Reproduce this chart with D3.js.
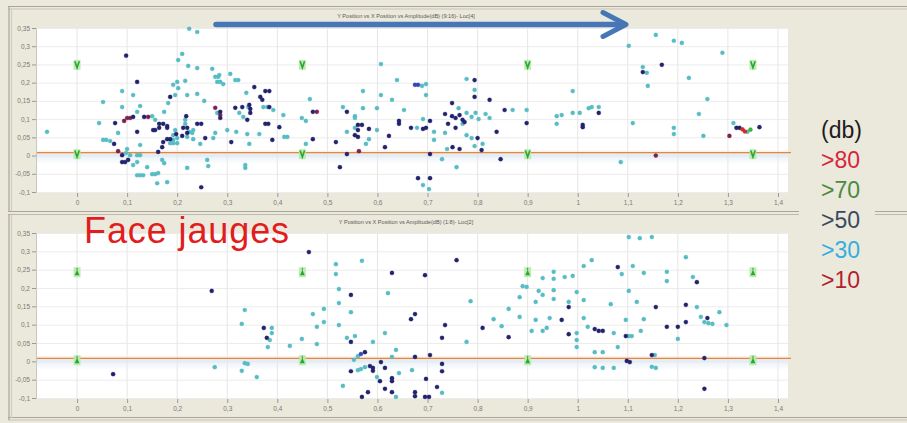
<!DOCTYPE html>
<html><head><meta charset="utf-8">
<script src="https://cdn.jsdelivr.net/npm/d3@7"></script>
<style>body{margin:0;background:#ebe8dc;overflow:hidden}svg{display:block}</style>
</head><body><svg id="c" width="907" height="423"></svg>
<script>
// ---------- DATA ----------
const xTicks = [0,0.1,0.2,0.3,0.4,0.5,0.6,0.7,0.8,0.9,1,1.1,1.2,1.3,1.4];
const yTicks = [0.35,0.3,0.25,0.2,0.15,0.1,0.05,0,-0.05,-0.1];
const thresholdY = 0.008;
const gaugeX = [0,0.45,0.9,1.35];
const gaugeYTop = [0.249,0.004];
const gaugeYBottom = [0.243,0.003];
const titleTop = "Y Position vs X Position vs Amplitude(dB) (9:16)- Loc[4]";
const titleBottom = "Y Position vs X Position vs Amplitude(dB) (1:8)- Loc[2]";
const legendLabels = ["(db)", ">80", ">70", ">50", ">30", ">10"];
const legendColors = ["#1c1c1c", "#d9243a", "#4c8a3e", "#3a4a5e", "#34aee0", "#b41e2e"];

const topTeal = [[-0.060,0.065],[0.052,0.147],[0.044,0.089],[0.052,0.043],[0.058,0.043],[0.066,0.040],[0.090,0.177],[0.090,0.133],[0.082,0.062],[0.112,0.166],[0.126,0.136],[0.120,0.120],[0.150,0.108],[0.126,0.029],[0.100,0.018],[0.098,0.007],[0.106,0.001],[0.112,-0.026],[0.120,-0.018],[0.120,0.001],[0.126,0.001],[0.140,-0.032],[0.120,-0.054],[0.126,-0.054],[0.132,-0.054],[0.150,-0.051],[0.156,-0.051],[0.162,-0.048],[0.160,-0.076],[0.180,-0.073],[0.170,-0.012],[0.174,-0.021],[0.156,0.098],[0.174,0.120],[0.182,0.144],[0.186,0.034],[0.192,0.043],[0.196,0.166],[0.192,0.194],[0.200,0.202],[0.202,0.185],[0.202,0.262],[0.210,0.279],[0.216,0.205],[0.220,0.166],[0.222,0.246],[0.240,0.240],[0.224,0.348],[0.240,0.339],[0.240,0.169],[0.216,0.098],[0.216,0.087],[0.196,0.070],[0.224,0.065],[0.230,0.062],[0.232,0.070],[0.254,0.150],[0.260,-0.012],[0.262,-0.029],[0.246,0.032],[0.232,0.045],[0.220,0.051],[0.192,0.056],[0.200,0.048],[0.192,0.034],[0.200,0.034],[0.220,-0.034],[0.270,0.238],[0.276,0.216],[0.282,0.216],[0.280,0.202],[0.286,0.202],[0.272,0.048],[0.276,0.062],[0.284,0.221],[0.292,0.196],[0.280,0.117],[0.306,0.224],[0.316,0.207],[0.322,0.207],[0.300,0.070],[0.318,0.065],[0.324,0.117],[0.332,0.106],[0.342,0.133],[0.338,0.172],[0.340,0.059],[0.344,0.032],[0.336,-0.026],[0.336,-0.034],[0.364,0.059],[0.372,0.133],[0.380,0.133],[0.392,0.125],[0.412,0.111],[0.414,0.051],[0.420,0.051],[0.465,0.155],[0.449,0.103],[0.457,0.095],[0.457,0.032],[0.531,0.133],[0.555,0.108],[0.555,0.103],[0.555,0.076],[0.539,0.065],[0.571,0.177],[0.571,0.130],[0.583,0.045],[0.577,0.032],[0.599,0.070],[0.599,0.130],[0.607,0.251],[0.607,0.166],[0.629,0.153],[0.639,0.207],[0.653,0.125],[0.689,0.191],[0.697,0.196],[0.679,0.076],[0.691,0.100],[0.697,0.166],[0.713,0.065],[0.713,0.043],[0.691,-0.081],[0.703,-0.092],[0.729,-0.010],[0.735,0.062],[0.762,0.130],[0.770,0.087],[0.778,0.210],[0.794,0.180],[0.778,0.117],[0.788,0.106],[0.796,0.117],[0.802,0.100],[0.778,0.056],[0.788,0.048],[0.794,0.026],[0.810,0.032],[0.739,0.018],[0.758,-0.032],[0.816,0.114],[0.824,0.103],[0.870,0.125],[0.898,0.125],[0.958,0.108],[0.968,0.111],[0.958,0.087],[0.990,0.177],[0.990,0.117],[1.004,0.117],[1.022,0.130],[1.028,0.133],[1.042,0.133],[1.086,-0.018],[1.102,0.301],[1.110,0.089],[1.130,0.243],[1.138,0.227],[1.140,0.191],[1.156,0.331],[1.192,0.315],[1.208,0.309],[1.192,0.076],[1.192,0.059],[1.222,0.213],[1.242,0.114],[1.251,0.054],[1.259,0.155],[1.289,0.282],[1.311,0.089],[1.339,0.065]];
const topNavy = [[0.076,0.089],[0.074,0.032],[0.098,0.274],[0.112,0.106],[0.120,0.065],[0.120,0.202],[0.134,0.106],[0.090,0.001],[0.090,-0.018],[0.096,-0.018],[0.102,-0.012],[0.162,0.010],[0.152,0.070],[0.156,0.070],[0.164,0.087],[0.164,0.076],[0.172,0.087],[0.180,0.081],[0.180,0.076],[0.186,0.161],[0.180,0.045],[0.186,0.045],[0.172,0.037],[0.170,0.023],[0.218,0.108],[0.212,0.076],[0.220,0.076],[0.198,0.059],[0.210,0.054],[0.220,0.062],[0.240,0.087],[0.248,0.087],[0.256,0.048],[0.248,-0.087],[0.286,0.120],[0.286,0.103],[0.308,0.037],[0.316,0.131],[0.330,0.133],[0.340,0.098],[0.344,0.139],[0.346,0.128],[0.346,0.117],[0.354,0.188],[0.366,0.161],[0.370,0.153],[0.376,0.177],[0.384,0.177],[0.376,0.087],[0.382,0.087],[0.384,0.133],[0.390,0.043],[0.404,0.078],[0.471,0.120],[0.471,0.045],[0.517,0.037],[0.525,-0.032],[0.539,0.004],[0.539,0.120],[0.561,0.084],[0.569,0.084],[0.561,0.070],[0.555,0.056],[0.561,0.051],[0.583,0.073],[0.615,0.023],[0.623,0.054],[0.643,0.095],[0.643,0.087],[0.667,0.076],[0.691,0.073],[0.697,0.076],[0.705,0.095],[0.705,0.004],[0.681,-0.062],[0.705,-0.062],[0.741,0.087],[0.735,0.114],[0.749,0.144],[0.749,0.108],[0.756,0.103],[0.764,0.111],[0.770,0.098],[0.774,0.092],[0.756,0.076],[0.794,0.207],[0.794,0.161],[0.800,0.048],[0.808,0.015],[0.750,0.023],[0.764,0.018],[0.824,0.153],[0.838,0.065],[0.846,-0.010],[0.854,0.125],[0.898,0.089],[1.010,0.084],[1.010,0.078],[1.042,0.117],[1.130,0.229],[1.168,0.249],[1.317,0.076],[1.323,0.076],[1.363,0.078]];
const topBlue = [[0.675,0.194],[0.681,0.194]];
const topMaroon = [[0.082,0.012],[0.094,0.095],[0.100,0.103],[0.106,0.103],[0.142,0.106],[0.276,0.131],[0.286,0.111],[0.479,0.120],[0.563,0.012],[1.156,0.000],[1.303,0.054]];
const topRed = [[1.329,0.072],[1.334,0.066]];
const topGreen = [[1.345,0.071]];

const bottomTeal = [[0.275,-0.016],[0.329,0.102],[0.335,0.140],[0.329,-0.026],[0.335,-0.005],[0.341,-0.007],[0.359,-0.043],[0.385,0.058],[0.389,0.091],[0.389,0.077],[0.381,0.039],[0.425,0.042],[0.449,0.061],[0.471,0.129],[0.479,0.094],[0.479,0.047],[0.493,0.143],[0.493,0.107],[0.517,0.265],[0.517,0.238],[0.523,0.197],[0.523,0.159],[0.523,0.099],[0.531,-0.067],[0.539,0.064],[0.547,0.134],[0.555,0.069],[0.553,0.004],[0.561,0.014],[0.561,-0.024],[0.567,-0.021],[0.575,-0.016],[0.569,0.274],[0.591,0.053],[0.599,-0.043],[0.615,0.077],[0.621,0.186],[0.629,0.012],[0.637,0.031],[0.637,-0.097],[0.643,-0.032],[0.669,-0.024],[0.729,-0.086],[0.778,0.053],[0.786,0.164],[0.832,0.115],[0.848,0.096],[0.862,0.143],[0.884,0.175],[0.884,0.121],[0.890,0.205],[0.898,0.203],[0.908,0.083],[0.916,0.162],[0.916,0.113],[0.922,0.192],[0.930,0.227],[0.930,0.181],[0.930,0.083],[0.938,0.091],[0.944,0.118],[0.952,0.244],[0.952,0.225],[0.952,0.194],[0.952,0.170],[0.974,0.230],[0.982,0.162],[0.990,0.233],[0.998,0.189],[0.998,0.077],[0.998,0.058],[0.998,0.039],[1.012,0.260],[1.012,0.167],[1.012,0.118],[1.020,0.094],[1.028,0.276],[1.034,0.025],[1.050,0.025],[1.034,-0.016],[1.050,-0.018],[1.072,-0.018],[1.066,0.156],[1.072,0.077],[1.088,0.238],[1.080,0.039],[1.102,0.069],[1.108,0.069],[1.096,0.113],[1.102,0.192],[1.102,0.339],[1.124,0.336],[1.148,0.339],[1.110,0.260],[1.118,0.162],[1.126,0.083],[1.132,0.241],[1.132,0.115],[1.154,0.017],[1.148,-0.015],[1.156,-0.018],[1.178,0.244],[1.178,0.219],[1.200,0.061],[1.216,0.284],[1.230,0.230],[1.238,0.148],[1.246,0.121],[1.253,0.107],[1.261,0.104],[1.269,0.102],[1.283,0.134],[1.297,0.099]];
const bottomNavy = [[0.072,-0.035],[0.269,0.192],[0.373,0.091],[0.379,0.064],[0.463,0.298],[0.547,0.181],[0.547,0.053],[0.547,-0.027],[0.575,0.025],[0.569,-0.097],[0.581,-0.084],[0.585,-0.013],[0.591,-0.018],[0.591,-0.026],[0.607,-0.002],[0.605,-0.054],[0.615,-0.018],[0.615,-0.075],[0.629,0.241],[0.629,-0.046],[0.629,-0.054],[0.629,-0.084],[0.667,0.115],[0.675,0.129],[0.675,0.012],[0.675,-0.084],[0.675,-0.095],[0.695,0.235],[0.697,-0.048],[0.695,-0.097],[0.703,-0.097],[0.705,0.017],[0.719,-0.070],[0.729,-0.007],[0.729,-0.027],[0.729,0.064],[0.735,0.099],[0.758,0.276],[0.810,0.091],[0.862,0.066],[0.968,0.113],[0.982,0.148],[0.982,0.074],[1.034,0.088],[1.042,0.083],[1.050,0.083],[1.080,0.257],[1.096,0.069],[1.098,0.001],[1.104,-0.002],[1.148,0.017],[1.156,0.148],[1.178,0.094],[1.200,0.094],[1.216,0.154],[1.216,0.107],[1.238,0.216],[1.259,0.118],[1.253,0.009],[1.253,-0.075]];
const bottomBlue = [[0.567,0.020]];

// ---------- LAYOUT ----------
const W = 907, H = 423;
const plotL = 37, plotR = 788;
const panels = [
  {top:28, bottom:192, title:titleTop, titleY:17.5, gaugeY:gaugeYTop, shape:"v",
   series:[[topTeal,"#58bcc4"],[topMaroon,"#7c2150"],[topNavy,"#22236c"],[topBlue,"#3446b8"],[topRed,"#d42a2a"],[topGreen,"#3cb43c"]]},
  {top:233, bottom:398, title:titleBottom, titleY:224, gaugeY:gaugeYBottom, shape:"tri",
   series:[[bottomTeal,"#58bcc4"],[bottomNavy,"#22236c"],[bottomBlue,"#3446b8"]]}
];
const fmt = d => String(d).replace(".", ",");

const svg = d3.select("#c");
svg.append("rect").attr("width",W).attr("height",H).attr("fill","#ebe8dc");

// frames
const frame = svg.append("g").attr("fill","none");
function hline(y,x1,x2,c){frame.append("line").attr("x1",x1).attr("x2",x2).attr("y1",y).attr("y2",y).attr("stroke",c).attr("stroke-width",1.2);}
function vline(x,y1,y2,c){frame.append("line").attr("x1",x).attr("x2",x).attr("y1",y1).attr("y2",y2).attr("stroke",c).attr("stroke-width",1.2);}
hline(6.5,8,W,"#a9a599"); hline(9,8,W,"#c9c5b8");
hline(211.5,8,W,"#a9a599"); hline(214.5,8,W,"#bdb9ac");
hline(417.5,8,W,"#a9a599"); hline(420,8,W,"#c9c5b8");
vline(9,6,212,"#a9a599"); vline(11.5,9,211,"#d2cec2");
vline(9,214,420,"#a9a599"); vline(11.5,215,418,"#d2cec2");

const x = d3.scaleLinear().domain([-0.08,1.42]).range([plotL,plotR]);

panels.forEach(p => {
  const y = d3.scaleLinear().domain([-0.1,0.35]).range([p.bottom,p.top]);
  const g = svg.append("g");
  g.append("rect").attr("x",plotL).attr("y",p.top).attr("width",plotR-plotL).attr("height",p.bottom-p.top).attr("fill","#ffffff");
  g.append("g").selectAll("line").data(yTicks).join("line")
    .attr("x1",plotL).attr("x2",plotR).attr("y1",d=>y(d)+0.5).attr("y2",d=>y(d)+0.5)
    .attr("stroke","#ececec").attr("stroke-width",1);
  g.append("g").selectAll("line").data(xTicks).join("line")
    .attr("x1",d=>x(d)).attr("x2",d=>x(d)).attr("y1",p.top).attr("y2",p.bottom)
    .attr("stroke","#e6e6e6").attr("stroke-width",1);
  const grad = "band"+p.top;
  const lg = svg.append("defs").append("linearGradient").attr("id",grad).attr("x1",0).attr("x2",0).attr("y1",0).attr("y2",1);
  lg.append("stop").attr("offset","0%").attr("stop-color","#d6e5f2").attr("stop-opacity",0.85);
  lg.append("stop").attr("offset","100%").attr("stop-color","#eaf1f8").attr("stop-opacity",0.15);
  g.append("rect").attr("x",plotL).attr("y",y(thresholdY)).attr("width",plotR-plotL)
    .attr("height",y(-0.022)-y(thresholdY)).attr("fill","url(#"+grad+")");
  g.append("rect").attr("x",plotL).attr("y",y(0.014)).attr("width",plotR-plotL)
    .attr("height",y(thresholdY)-y(0.014)).attr("fill","#fbe6d4").attr("opacity",0.6);
  const ya = g.append("g").attr("transform",`translate(${plotL-1},0)`)
    .call(d3.axisLeft(y).tickValues(yTicks).tickFormat(fmt).tickSize(4).tickPadding(2));
  ya.select(".domain").attr("stroke","#c8c8c0");
  ya.selectAll(".tick line").attr("stroke","#9a9a94");
  ya.selectAll("text").attr("font-family","Liberation Sans, Arial, sans-serif").attr("font-size",6.5).attr("fill","#7a7a74");
  const xa = g.append("g").attr("transform",`translate(0,${p.bottom+1})`)
    .call(d3.axisBottom(x).tickValues(xTicks).tickFormat(fmt).tickSize(4).tickPadding(3));
  xa.select(".domain").remove();
  xa.selectAll(".tick line").attr("stroke","#9a9a94");
  xa.selectAll("text").attr("font-family","Liberation Sans, Arial, sans-serif").attr("font-size",6.5).attr("fill","#7a7a74");
  g.append("line").attr("x1",plotL).attr("x2",plotR+3).attr("y1",y(thresholdY)).attr("y2",y(thresholdY))
    .attr("stroke","#e8853a").attr("stroke-width",1.4);
  const gm = g.append("g");
  gaugeX.forEach(gx => p.gaugeY.forEach(gy => {
    const cx = x(gx), cy = y(gy);
    gm.append("rect").attr("x",cx-3.5).attr("y",cy-5).attr("width",7).attr("height",10).attr("fill","#b4eca8").attr("opacity",0.9);
    if (p.shape === "v") {
      gm.append("path").attr("d",`M${cx-2.2},${cy-3.5}L${cx},${cy+3}L${cx+2.2},${cy-3.5}`)
        .attr("fill","none").attr("stroke","#2fa336").attr("stroke-width",1.6);
    } else {
      gm.append("path").attr("d",`M${cx-2.4},${cy+3}L${cx},${cy-2.5}L${cx+2.4},${cy+3}Z`).attr("fill","#2fa336");
      gm.append("line").attr("x1",cx).attr("x2",cx).attr("y1",cy-4.5).attr("y2",cy-2).attr("stroke","#2fa336").attr("stroke-width",1);
    }
  }));
  p.series.forEach(([data,col]) => {
    g.append("g").selectAll("circle").data(data).join("circle")
      .attr("cx",d=>x(d[0])).attr("cy",d=>y(d[1])).attr("r",2.1)
      .attr("fill",col).attr("stroke",col).attr("stroke-opacity",0.35).attr("stroke-width",0.8);
  });
  svg.append("text").attr("x",406).attr("y",p.titleY).attr("text-anchor","middle")
    .attr("font-family","Liberation Sans, Arial, sans-serif").attr("font-size",5.6).attr("fill","#5a5a58").text(p.title);
});

// arrow
const arrow = svg.append("g").attr("stroke","#4676b6").attr("fill","none").attr("stroke-linecap","round");
arrow.append("line").attr("x1",216).attr("x2",624).attr("y1",24.5).attr("y2",24.5).attr("stroke-width",5.5);
arrow.append("path").attr("d","M603,12.5L626,24.5L603,36.5").attr("stroke-width",5).attr("stroke-linejoin","round");

// annotation
svg.append("text").attr("x",84).attr("y",243).attr("font-family","Liberation Sans, Arial, sans-serif")
  .attr("font-size",36).attr("letter-spacing",0.9).attr("fill","#e21d1d").text("Face jauges");

// legend
svg.append("rect").attr("x",799).attr("y",205).attr("width",76).attr("height",16).attr("fill","#ebe8dc");
const leg = svg.append("g").attr("font-family","Liberation Sans, Arial, sans-serif").attr("font-size",23);
leg.selectAll("text").data(legendLabels).join("text")
  .attr("x",821).attr("y",(d,i)=>138+i*30)
  .attr("fill",(d,i)=>legendColors[i]).text(d=>d);
</script></body></html>
